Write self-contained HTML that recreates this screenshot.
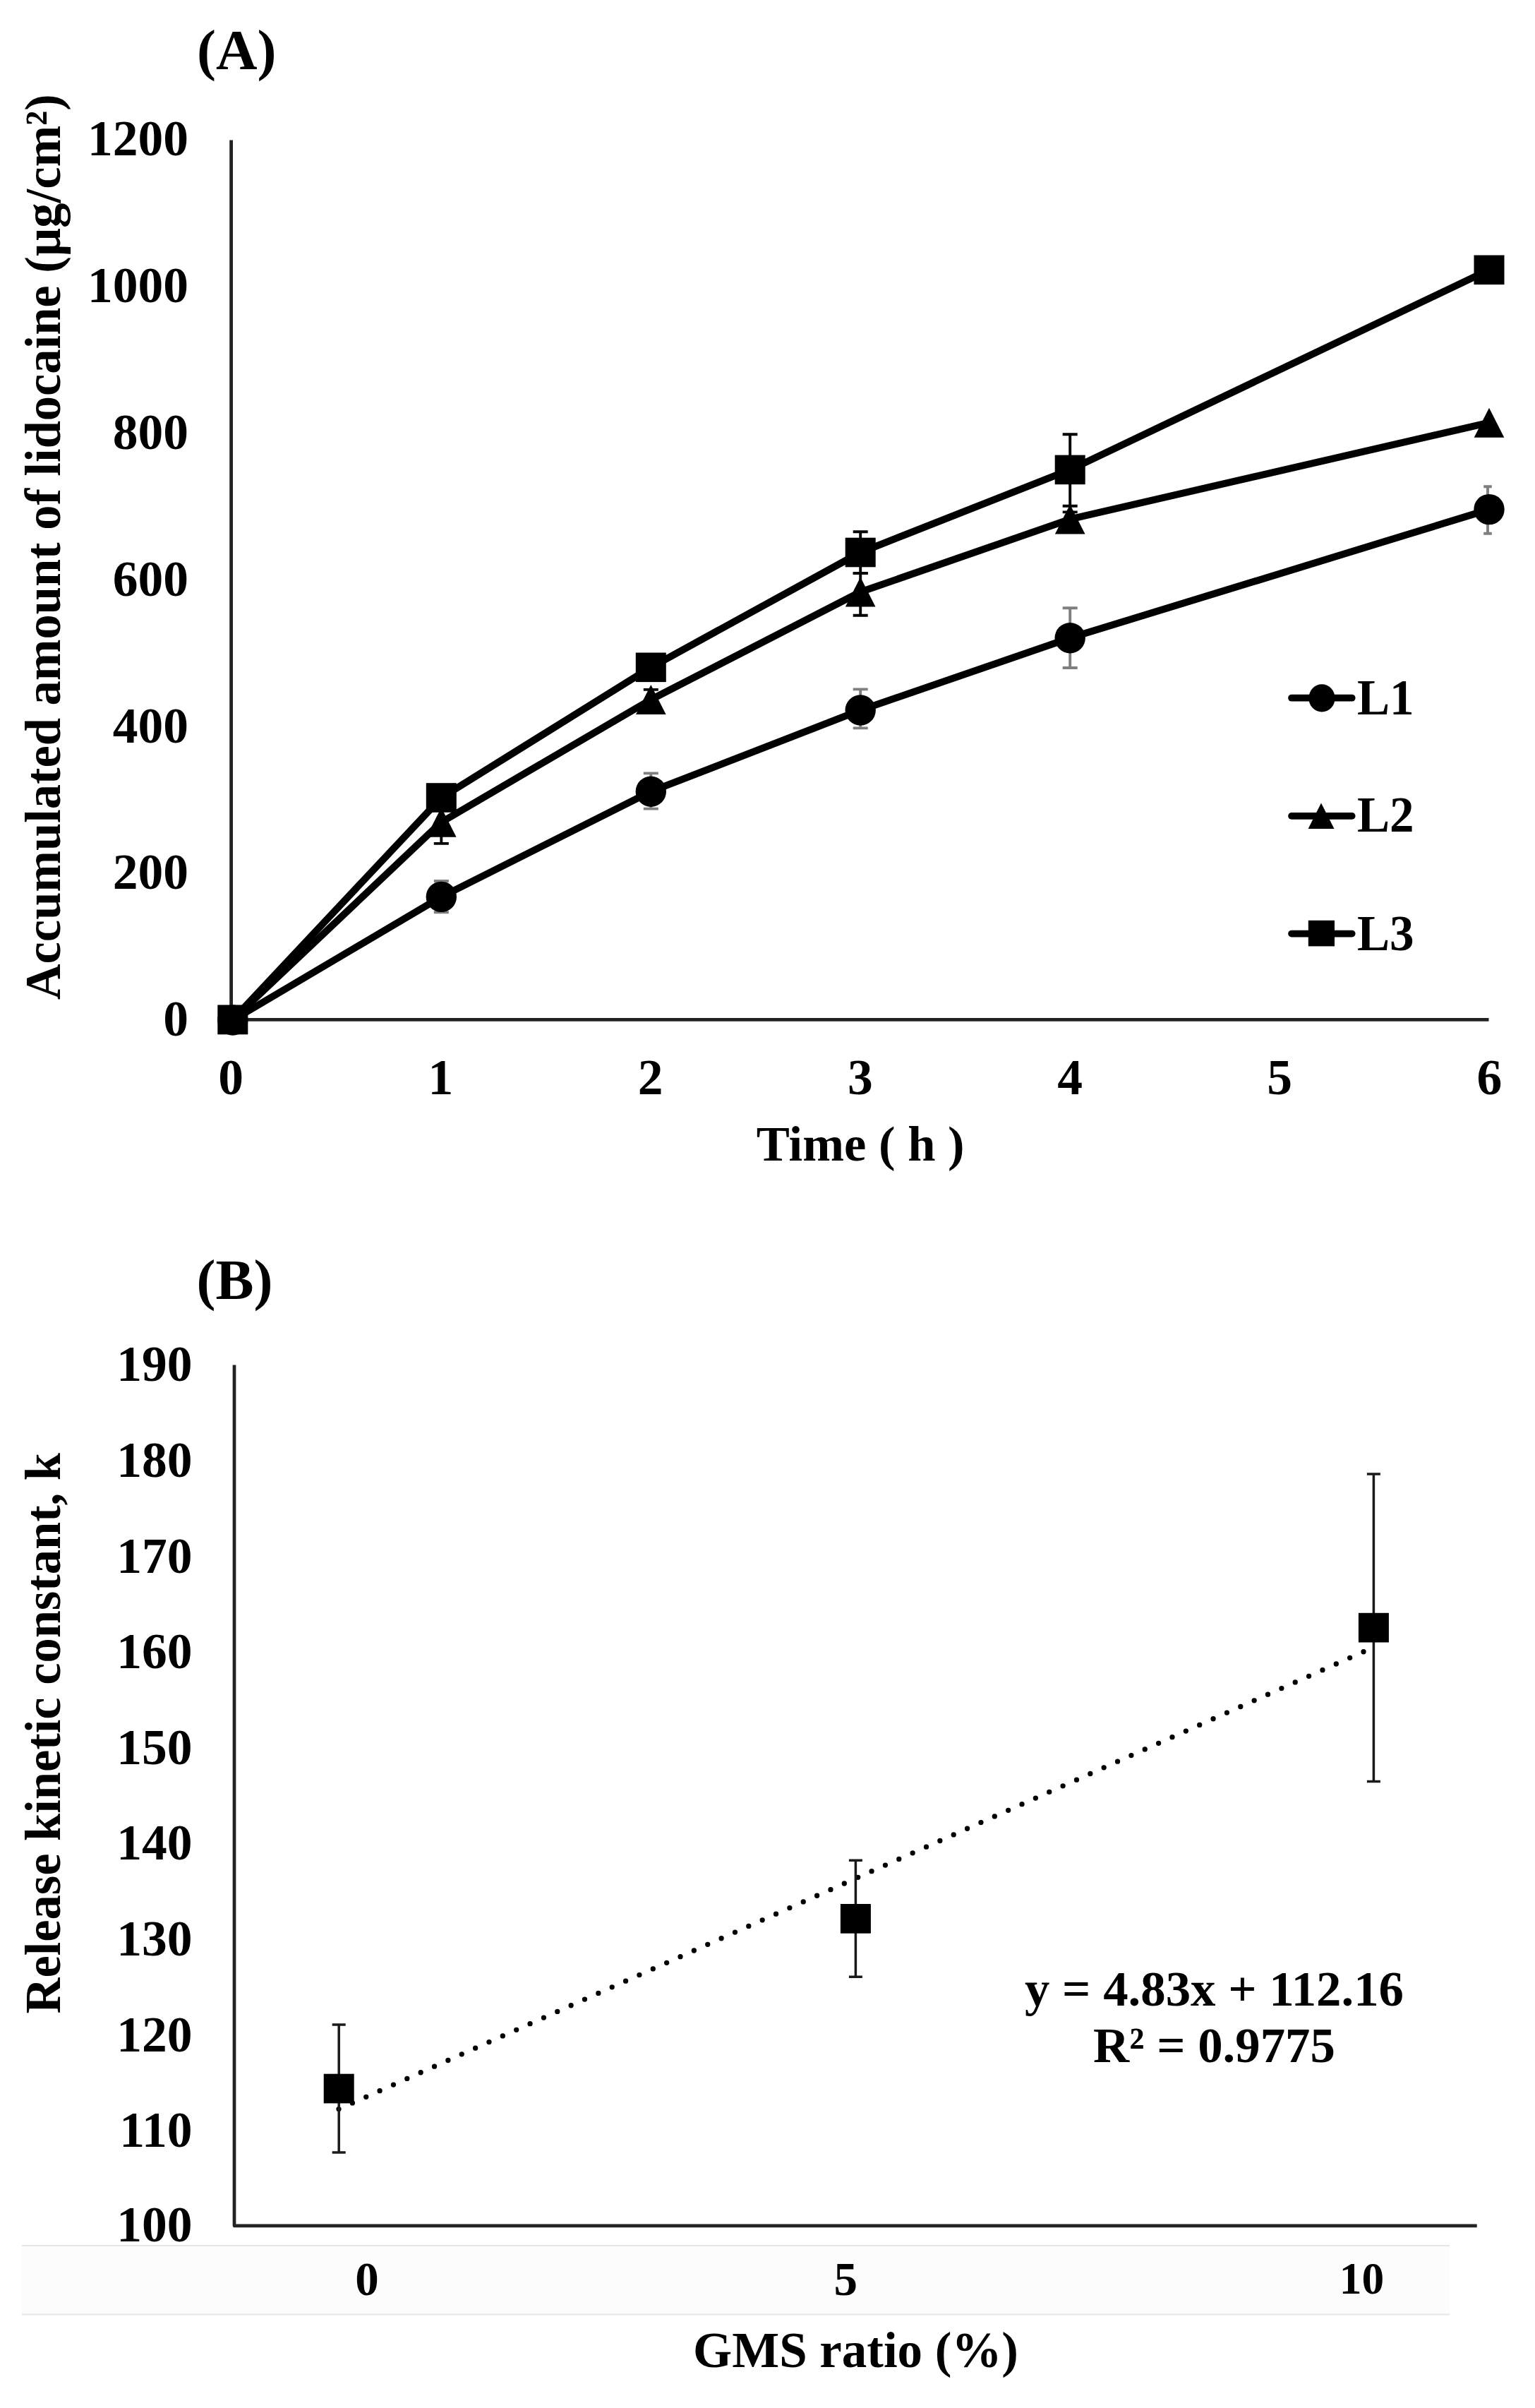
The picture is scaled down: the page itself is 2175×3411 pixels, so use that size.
<!DOCTYPE html>
<html lang="en"><head><meta charset="utf-8"><title>Figure</title>
<style>html,body{margin:0;padding:0;background:#fff}body{width:2175px;height:3411px;overflow:hidden}svg{display:block}text{font-family:"Liberation Serif",serif;font-weight:bold;fill:#000}</style>
</head><body>
<svg width="2175" height="3411" viewBox="0 0 2175 3411">
<rect width="2175" height="3411" fill="#fff"/>
<g id="strip"><rect x="31" y="3181" width="2023" height="97" fill="#fcfcfc"/>
<line x1="31" y1="3181" x2="2054" y2="3181" stroke="#e6e6e6" stroke-width="2"/>
<line x1="31" y1="3278.5" x2="2054" y2="3278.5" stroke="#e6e6e6" stroke-width="2"/></g>
<g id="chartA">
<text x="279" y="98" font-size="81">(A)</text>
<g stroke="#222" stroke-width="4.8" fill="none"><line x1="327.6" y1="198.4" x2="327.6" y2="1446.6"/><line x1="325.4" y1="1444.4" x2="2109.5" y2="1444.4"/></g>
<g font-size="71.5" text-anchor="end">
<text x="267" y="1467.2">0</text>
<text x="267" y="1259.4">200</text>
<text x="267" y="1051.5">400</text>
<text x="267" y="843.7">600</text>
<text x="267" y="635.8">800</text>
<text x="267" y="428.0">1000</text>
<text x="267" y="220.2">1200</text>
</g>
<g font-size="71.5" text-anchor="middle">
<text x="327.2" y="1550.3">0</text>
<text x="624.4" y="1550.3">1</text>
<text x="921.6" y="1550.3">2</text>
<text x="1218.8" y="1550.3">3</text>
<text x="1516.0" y="1550.3">4</text>
<text x="1813.2" y="1550.3">5</text>
<text x="2110.4" y="1550.3">6</text>
</g>
<text x="1219.2" y="1644" font-size="70.6" text-anchor="middle">Time ( h )</text>
<text transform="translate(85,1416.3) rotate(-90)" font-size="71.5" textLength="1283" lengthAdjust="spacingAndGlyphs">Accumulated amount of lidocaine (µg/cm²)</text>
<g stroke="#7f7f7f" stroke-width="3.9" fill="none">
<path d="M625.3 1248.0V1292.3M614.8 1248.0h21.0M614.8 1292.3h21.0"/>
<path d="M922.3 1095.4V1145.6M911.8 1095.4h21.0M911.8 1145.6h21.0"/>
<path d="M1219.2 976.4V1031.4M1208.7 976.4h21.0M1208.7 1031.4h21.0"/>
<path d="M1516.2 861.2V946.0M1505.7 861.2h21.0M1505.7 946.0h21.0"/>
<path d="M2108.0 689.3V755.8M2102.2 689.3h11.6M2102.2 755.8h11.6"/>
</g>
<polyline points="329.8,1445.0 625.3,1270.4 922.3,1121.2 1219.2,1006.0 1516.2,903.7 2110.0,721.6" fill="none" stroke="#000" stroke-width="10" stroke-linejoin="round" stroke-linecap="round"/>
<circle cx="329.8" cy="1445.0" r="21.7"/>
<circle cx="625.3" cy="1270.4" r="21.7"/>
<circle cx="922.3" cy="1121.2" r="21.7"/>
<circle cx="1219.2" cy="1006.0" r="21.7"/>
<circle cx="1516.2" cy="903.7" r="21.7"/>
<circle cx="2110.0" cy="721.6" r="21.7"/>
<g stroke="#000" stroke-width="3.9" fill="none">
<path d="M625.3 1134.5V1194.9M614.8 1134.5h21.0M614.8 1194.9h21.0"/>
<path d="M922.3 976.9V1005.0M911.8 976.9h21.0M911.8 1005.0h21.0"/>
<path d="M1219.2 812.1V871.8M1208.7 812.1h21.0M1208.7 871.8h21.0"/>
<path d="M1516.2 725.4V746.6M1505.7 725.4h21.0M1505.7 746.6h21.0"/>
</g>
<polyline points="329.8,1444.3 625.3,1164.7 922.3,991.0 1219.2,838.5 1516.2,735.5 2110.0,598.7" fill="none" stroke="#000" stroke-width="10" stroke-linejoin="round" stroke-linecap="round"/>
<path d="M329.8 1423.3L351.1 1465.3L308.5 1465.3Z"/>
<path d="M625.3 1143.7L646.6 1185.7L604.0 1185.7Z"/>
<path d="M922.3 970.0L943.6 1012.0L901.0 1012.0Z"/>
<path d="M1219.2 817.5L1240.5 859.5L1197.9 859.5Z"/>
<path d="M1516.2 714.5L1537.5 756.5L1494.9 756.5Z"/>
<path d="M2110.0 577.7L2131.3 619.7L2088.7 619.7Z"/>
<g stroke="#000" stroke-width="3.9" fill="none">
<path d="M1219.2 753.2V812.1M1208.7 753.2h21.0M1208.7 812.1h21.0"/>
<path d="M1516.2 615.3V716.8M1505.7 615.3h21.0M1505.7 716.8h21.0"/>
</g>
<polyline points="329.8,1444.3 625.3,1130.0 922.3,945.3 1219.2,782.5 1516.2,665.4 2110.0,382.3" fill="none" stroke="#000" stroke-width="10" stroke-linejoin="round" stroke-linecap="round"/>
<rect x="308.3" y="1423.5" width="43" height="41.6"/>
<rect x="603.8" y="1109.2" width="43" height="41.6"/>
<rect x="900.8" y="924.5" width="43" height="41.6"/>
<rect x="1197.7" y="761.7" width="43" height="41.6"/>
<rect x="1494.7" y="644.6" width="43" height="41.6"/>
<rect x="2088.5" y="361.5" width="43" height="41.6"/>
<g id="legend">
<line x1="1830" y1="988.7" x2="1915.7" y2="988.7" stroke="#000" stroke-width="9.7" stroke-linecap="round"/>
<line x1="1830" y1="1155.9" x2="1915.7" y2="1155.9" stroke="#000" stroke-width="9.7" stroke-linecap="round"/>
<line x1="1830" y1="1322.6" x2="1915.7" y2="1322.6" stroke="#000" stroke-width="9.7" stroke-linecap="round"/>
<ellipse cx="1873" cy="988.9" rx="18.6" ry="19.6"/>
<path d="M1872 1137.6L1890.5 1174H1853.6Z"/>
<rect x="1853.8" y="1303.8" width="37.2" height="36.6"/>
<g font-size="71.5"><text x="1923" y="1012" textLength="80.6" lengthAdjust="spacingAndGlyphs">L1</text><text x="1923" y="1178.2" textLength="80.6" lengthAdjust="spacingAndGlyphs">L2</text><text x="1923" y="1346" textLength="80.6" lengthAdjust="spacingAndGlyphs">L3</text></g>
</g>
</g>
<g id="chartB">
<text x="278.5" y="1839.6" font-size="81">(B)</text>
<polyline points="332.0,1933.4 332.0,3152.8 2092.7,3152.8" stroke="#222" stroke-width="4.7" fill="none" stroke-linejoin="round"/>
<g font-size="71.5" text-anchor="end">
<text x="272.5" y="3174.5">100</text>
<text x="272.5" y="3041.1">110</text>
<text x="272.5" y="2905.5">120</text>
<text x="272.5" y="2769.9">130</text>
<text x="272.5" y="2634.3">140</text>
<text x="272.5" y="2498.7">150</text>
<text x="272.5" y="2363.1">160</text>
<text x="272.5" y="2227.5">170</text>
<text x="272.5" y="2091.9">180</text>
<text x="272.5" y="1956.3">190</text>
</g>
<g text-anchor="middle"><text x="520" y="3251.3" font-size="67">0</text><text x="1198.2" y="3251.3" font-size="67">5</text><text x="1929.5" y="3248.8" font-size="63.5">10</text></g>
<text x="1212.5" y="3352.7" font-size="71.5" text-anchor="middle" textLength="461" lengthAdjust="spacingAndGlyphs">GMS ratio (%)</text>
<text transform="translate(85,2852.5) rotate(-90)" font-size="71.5" textLength="794.5" lengthAdjust="spacingAndGlyphs">Release kinetic constant, k</text>
<line x1="480" y1="2987.6" x2="1946" y2="2333.5" stroke="#000" stroke-width="7.3" stroke-linecap="round" stroke-dasharray="0 21.2"/>
<g stroke="#1a1a1a" stroke-width="3.5" fill="none">
<path d="M480.2 2868.1V3048.9M470.7 2868.1h19M470.7 3048.9h19"/>
<path d="M1212.4 2635.3V2800.3M1202.9 2635.3h19M1202.9 2800.3h19"/>
<path d="M1946.4 2087.9V2523.5M1936.9 2087.9h19M1936.9 2523.5h19"/>
</g>
<rect x="458.7" y="2937.7" width="43" height="41.7"/>
<rect x="1190.9" y="2697.0" width="43" height="41.7"/>
<rect x="1924.9" y="2284.8" width="43" height="41.7"/>
<g font-size="70.8" text-anchor="middle"><text x="1720.5" y="2840.6">y = 4.83x + 112.16</text><text x="1720.5" y="2920.6">R² = 0.9775</text></g>
</g>
</svg></body></html>
